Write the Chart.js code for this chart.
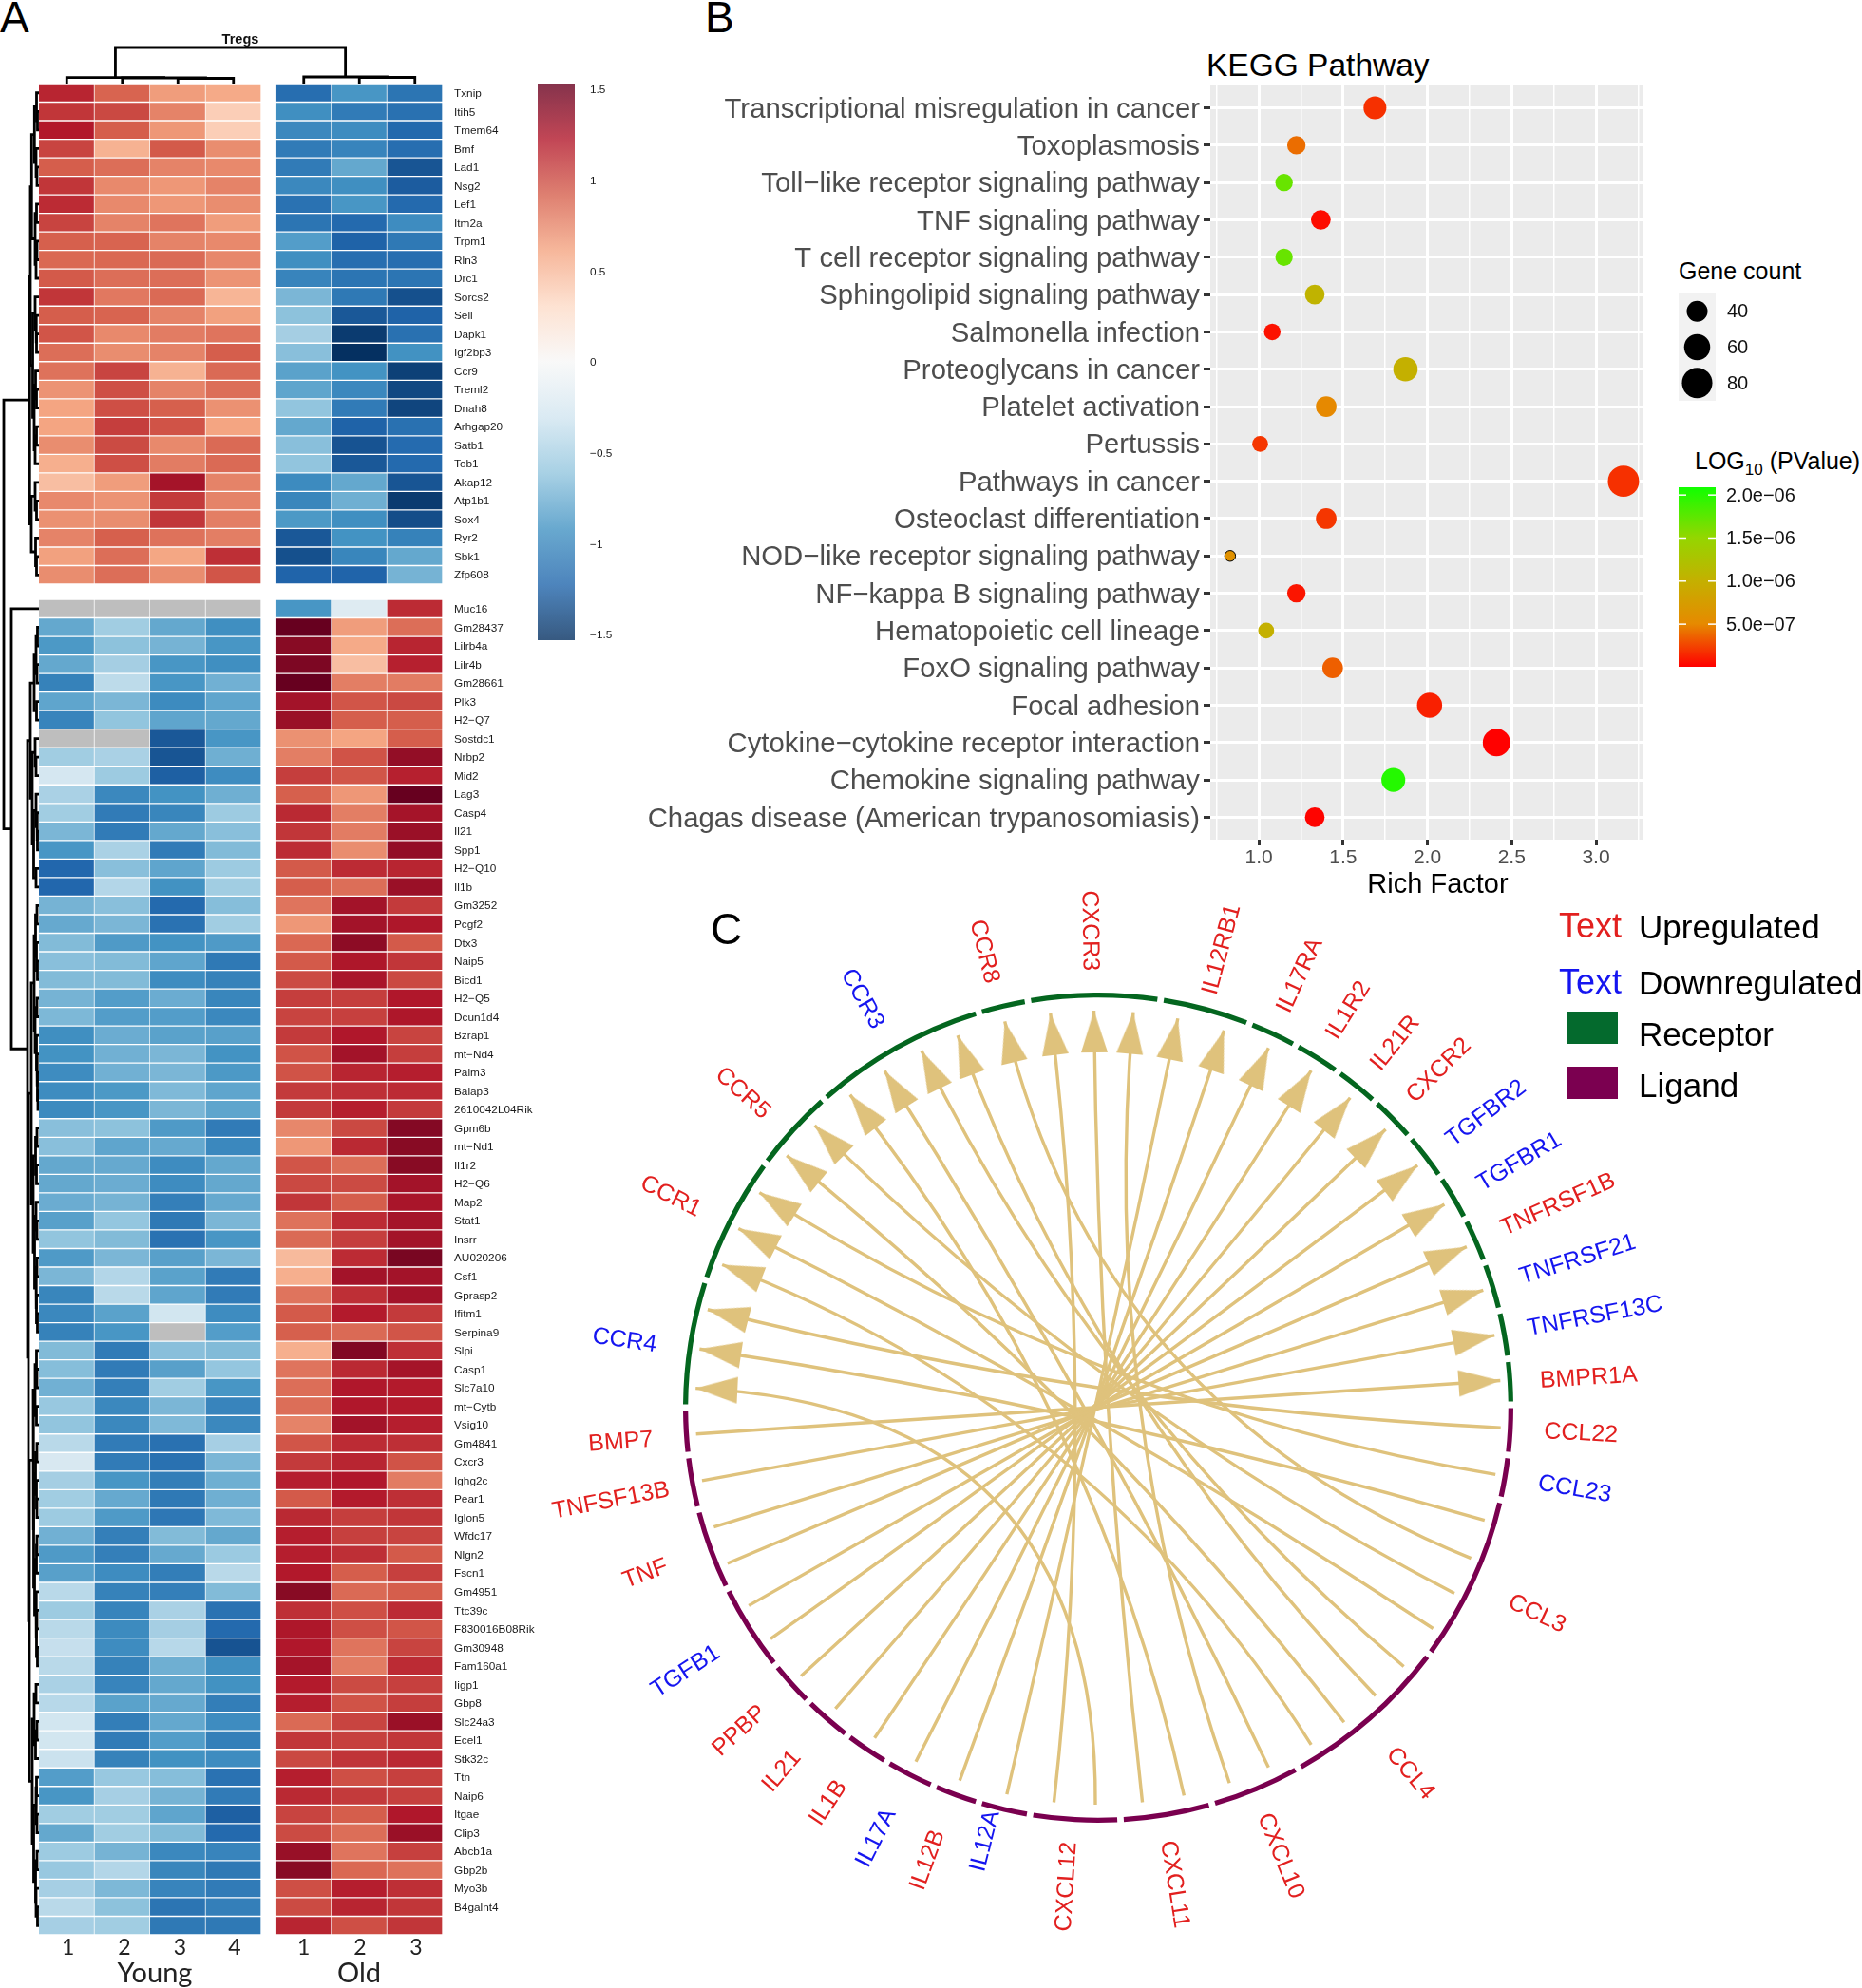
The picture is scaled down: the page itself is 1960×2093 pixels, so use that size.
<!DOCTYPE html>
<html>
<head>
<meta charset="utf-8">
<title>Tregs young vs old</title>
<script src="https://cdn.jsdelivr.net/npm/chart.js@4"></script>
<style>
    html, body { margin: 0; background: #fff; }
    body { position: relative; width: 1960px; height: 2093px; overflow: hidden; font-family: "Liberation Sans", Arial, sans-serif; }
    canvas { position: absolute; }
    .t { position: absolute; line-height: 1; white-space: nowrap; }
    .t sub { font-size: 0.68em; line-height: 0; }
    .key { position: absolute; }
</style>
</head>
<body>
<script>
// Panel A: heatmap values, one row per gene. null is a missing (grey) cell
const topGenes = ['Txnip','Itih5','Tmem64','Bmf','Lad1','Nsg2','Lef1','Itm2a','Trpm1','Rln3','Drc1','Sorcs2','Sell','Dapk1','Igf2bp3','Ccr9','Treml2','Dnah8','Arhgap20','Satb1','Tob1','Akap12','Atp1b1','Sox4','Ryr2','Sbk1','Zfp608'];
const topYoung = [[1.3,1.0,.72,.65],[1.22,1.13,.85,.42],[1.36,1.03,.75,.42],[1.15,.6,1.05,.8],[1.03,.95,.85,.82],[1.22,.82,.75,.85],[1.27,.82,.75,.8],[1.15,.85,.92,.72],[1.02,1.0,.85,.82],[.98,.98,.97,.83],[1.05,.95,.95,.77],[1.22,.9,.97,.58],[1.03,1.0,.85,.7],[1.07,.82,.88,.92],[.95,.8,.85,1.03],[.93,1.15,.6,.97],[.77,1.1,.85,.95],[.68,1.1,1.02,.78],[.68,1.18,1.08,.68],[.8,1.12,.82,.97],[.62,1.1,.88,.97],[.52,.72,1.42,.85],[.82,.77,1.2,.85],[.78,.8,1.22,.87],[.85,1.02,.93,.87],[.7,.95,.67,1.25],[.8,.95,.8,1.07]];
const topOld = [[-1.3,-1.0,-1.25],[-1.05,-1.2,-1.28],[-1.1,-1.07,-1.34],[-1.2,-1.13,-1.3],[-1.2,-.88,-1.47],[-1.1,-1.05,-1.42],[-1.27,-1.0,-1.33],[-1.25,-1.33,-1.07],[-.95,-1.38,-1.22],[-1.05,-1.3,-1.3],[-1.13,-1.25,-1.25],[-.78,-1.22,-1.5],[-.7,-1.45,-1.38],[-.58,-1.63,-1.28],[-.72,-1.72,-1.03],[-.92,-1.02,-1.6],[-.9,-1.1,-1.55],[-.68,-1.2,-1.57],[-.88,-1.38,-1.28],[-.72,-1.48,-1.32],[-.68,-1.45,-1.33],[-1.08,-.88,-1.47],[-1.12,-.83,-1.63],[-.98,-1.05,-1.52],[-1.45,-1.02,-1.15],[-1.5,-1.12,-.88],[-1.37,-1.37,-.8]];

const bottomGenes = ['Muc16','Gm28437','Lilrb4a','Lilr4b','Gm28661','Plk3','H2−Q7','Sostdc1','Nrbp2','Mid2','Lag3','Casp4','Il21','Spp1','H2−Q10','Il1b','Gm3252','Pcgf2','Dtx3','Naip5','Bicd1','H2−Q5','Dcun1d4','Bzrap1','mt−Nd4','Palm3','Baiap3','2610042L04Rik','Gpm6b','mt−Nd1','Il1r2','H2−Q6','Map2','Stat1','Insrr','AU020206','Csf1','Gprasp2','Ifitm1','Serpina9','Slpi','Casp1','Slc7a10','mt−Cytb','Vsig10','Gm4841','Cxcr3','Ighg2c','Pear1','Iglon5','Wfdc17','Nlgn2','Fscn1','Gm4951','Ttc39c','F830016B08Rik','Gm30948','Fam160a1','Iigp1','Gbp8','Slc24a3','Ecel1','Stk32c','Ttn','Naip6','Itgae','Clip3','Abcb1a','Gbp2b','Myo3b','B4galnt4',''];
const bottomYoung = [[null,null,null,null],[-.88,-.6,-.88,-1.05],[-.98,-.7,-.8,-1.0],[-.88,-.58,-1.0,-1.05],[-1.15,-.45,-1.0,-.82],[-.9,-.78,-1.08,-.9],[-1.13,-.68,-.9,-.88],[null,null,-1.45,-1.0],[-.6,-.55,-1.47,-.83],[-.3,-.62,-1.4,-1.07],[-.55,-1.1,-1.02,-.83],[-.6,-1.2,-1.12,-.62],[-.78,-1.2,-.88,-.72],[-1.0,-.55,-1.2,-.75],[-1.35,-.72,-.9,-.62],[-1.35,-.5,-1.03,-.6],[-.8,-.72,-1.33,-.73],[-.87,-.78,-1.27,-.6],[-.75,-.97,-1.02,-.97],[-.72,-.75,-.9,-1.22],[-.75,-.75,-1.07,-1.15],[-.8,-.95,-.85,-1.12],[-.77,-.95,-.95,-1.1],[-1.05,-.85,-.92,-.93],[-1.02,-.82,-.78,-1.02],[-1.07,-.82,-.78,-.98],[-1.07,-.98,-.76,-.9],[-1.08,-1.0,-.78,-.9],[-.72,-.7,-.97,-1.2],[-.72,-.9,-.87,-1.1],[-.88,-.87,-1.07,-.88],[-.88,-.85,-1.07,-.88],[-.85,-.8,-1.17,-.87],[-.93,-.67,-1.22,-.78],[-.68,-.75,-1.27,-1.0],[-.97,-.78,-.93,-.78],[-.78,-.5,-.92,-1.2],[-1.12,-.47,-.9,-1.2],[-1.1,-.92,-.33,-1.07],[-1.15,-1.0,null,-.95],[-.75,-1.2,-.72,-.75],[-.73,-1.2,-.93,-.67],[-.82,-1.17,-.6,-1.0],[-.65,-1.1,-.78,-1.13],[-.68,-1.1,-.76,-1.1],[-.47,-1.2,-1.28,-.57],[-.28,-1.2,-1.28,-.78],[-.58,-1.0,-1.18,-.83],[-.6,-.87,-1.22,-.83],[-.62,-.97,-1.23,-.76],[-.82,-1.17,-.75,-.88],[-.97,-1.17,-.87,-.63],[-.93,-1.07,-1.18,-.47],[-.47,-1.15,-1.17,-.75],[-.62,-1.13,-.55,-1.27],[-.47,-1.08,-.58,-1.33],[-.4,-1.07,-.48,-1.48],[-.47,-1.15,-.83,-1.05],[-.55,-1.13,-.88,-1.03],[-.48,-.92,-.87,-1.18],[-.33,-1.18,-.88,-1.07],[-.33,-1.2,-.95,-1.17],[-.37,-1.15,-1.03,-1.07],[-.95,-.65,-.73,-1.27],[-1.0,-.57,-.8,-1.2],[-.6,-.6,-.9,-1.4],[-.88,-.6,-.75,-1.33],[-.62,-.8,-1.1,-1.13],[-.65,-.5,-1.12,-1.22],[-.57,-.77,-1.13,-1.2],[-.47,-.7,-1.25,-1.17],[-.57,-.6,-1.22,-1.22]];
const bottomOld = [[-1.0,-.22,1.27],[1.7,.72,.95],[1.55,.65,1.3],[1.6,.52,1.32],[1.7,.87,.88],[1.43,1.07,1.13],[1.47,1.03,1.03],[.78,.68,1.03],[.87,1.08,1.5],[1.18,1.07,1.32],[1.02,.75,1.72],[1.28,.87,1.42],[1.22,.88,1.47],[1.27,.8,1.5],[1.05,1.27,1.3],[1.03,.95,1.47],[.92,1.43,1.2],[.75,1.43,1.38],[.98,1.53,1.05],[1.05,1.38,1.22],[1.12,1.4,1.13],[1.18,1.18,1.37],[1.15,1.17,1.38],[1.2,1.37,1.15],[1.08,1.43,1.18],[1.08,1.3,1.33],[1.2,1.25,1.27],[1.2,1.33,1.2],[.83,1.13,1.57],[.75,1.28,1.55],[1.07,.95,1.55],[1.13,1.12,1.43],[1.22,1.03,1.4],[.93,1.27,1.42],[.97,1.18,1.43],[.55,1.27,1.62],[.62,1.43,1.43],[.92,1.25,1.43],[1.05,1.35,1.2],[1.02,.97,1.07],[.62,1.58,1.25],[.92,1.28,1.42],[.95,1.37,1.35],[.95,1.37,1.35],[.85,1.43,1.33],[1.07,1.27,1.25],[1.2,1.3,1.08],[1.33,1.37,.88],[1.05,1.35,1.25],[1.28,1.18,1.22],[1.33,1.17,1.15],[1.33,1.25,1.05],[1.36,1.03,1.17],[1.55,.97,1.03],[1.25,1.1,1.27],[1.38,1.1,1.07],[1.37,.92,1.15],[1.42,.88,1.27],[1.35,1.12,1.17],[1.33,1.08,1.18],[.97,1.15,1.47],[1.22,1.17,1.22],[1.13,1.23,1.28],[1.33,1.1,1.17],[1.28,1.2,1.17],[1.15,1.03,1.37],[1.12,.95,1.47],[1.48,.92,1.17],[1.55,.98,.93],[1.1,1.33,1.25],[1.12,1.3,1.22],[1.3,1.1,1.22]];

const colorbarTicks = [-1.5, -1, -0.5, 0, 0.5, 1, 1.5];
const sampleNumbers = ['1', '2', '3', '4', '1', '2', '3'];

// dendrograms as nested [height, childA, childB], a number is a leaf
const colTree = [38, [6.3, 0, [6, 1, [5.5, 2, 3]]], [7, 4, [6.5, 5, 6]]];
const rowTreeTop = [9.7,
    [9,
        [7.7, [4.7, [2.5, 0, [1.5, 1, 2]], [3, 3, [2, 4, 5]]], [4, [2.5, 6, 7], [3, [2, 8, 9], 10]]],
        [6.5, [4, 11, [3, 12, [2.5, 13, 14]]], [5, [3.5, 15, [2.5, 16, 17]], [4, [2.5, 18, 19], 20]]]],
    [8, [4, 21, [2.5, 22, 23]], [3.5, 24, [2.5, 25, 26]]]];
const rowTreeBottom = [29, 0,
    [12,
        [9, [5, [3, [1.5, 1, 2], [2, 3, 4]], [2.5, 5, 6]],
            [7, [4, 7, [3, 8, 9]], [5.5, [3, 10, [2, 11, [1.5, 12, 13]]], [3, 14, 15]]]],
        [11,
            [8,
                [5, [3.5, [2, 16, 17], [2.5, 18, [1.5, 19, 20]]], [4, [2, 21, 22], [2.5, 23, [2, 24, [1.5, 25, [1, 26, 27]]]]]],
                [6, [3.5, [2, 28, 29], [2.5, 30, 31]], [4.5, [3, 32, [2, 33, 34]], [3, [2, 35, 36], [2.5, 37, [1.5, 38, 39]]]]]],
            [10,
                [6, [4, [2.5, 40, [2, 41, 42]], [2.5, 43, 44]], [5.5, [3.5, [2, 45, 46], [2.5, 47, [2, 48, 49]]], [4.5, [2.5, [2, 50, 51], 52], [3, 53, [2.5, [2, 54, 55], [1.5, 56, 57]]]]]],
                [7, [5, [3, 58, 59], [3.5, [2, 60, 61], 62]], [5.5, [3, [2.5, 63, 64], [2, 65, 66]], [3.5, [2, 67, 68], [3, 69, [1.5, 70, 71]]]]]]]]];
const rowRootHeight = 37;

// Panel B
const pathways = ['Transcriptional misregulation in cancer','Toxoplasmosis','Toll−like receptor signaling pathway','TNF signaling pathway','T cell receptor signaling pathway','Sphingolipid signaling pathway','Salmonella infection','Proteoglycans in cancer','Platelet activation','Pertussis','Pathways in cancer','Osteoclast differentiation','NOD−like receptor signaling pathway','NF−kappa B signaling pathway','Hematopoietic cell lineage','FoxO signaling pathway','Focal adhesion','Cytokine−cytokine receptor interaction','Chemokine signaling pathway','Chagas disease (American trypanosomiasis)'];
const richFactor = [1.689,1.223,1.15,1.368,1.15,1.332,1.08,1.87,1.40,1.008,3.163,1.40,0.83,1.223,1.044,1.438,2.013,2.41,1.798,1.332];
const geneCount = [47,32,29,36,29,36,27,53,39,25,84,39,14,32,25,39,56,66,51,36];
const pValue = [1.8e-7,4e-7,1.7e-6,5e-8,1.7e-6,1.05e-6,7e-8,1.0e-6,5e-7,2e-7,1.8e-7,2e-7,6e-7,8e-8,1e-6,3.5e-7,1.2e-7,1e-8,2e-6,2e-8];
const sizeLegend = ['40', '60', '80'];
const pValueTicks = [5e-7, 1e-6, 1.5e-6, 2e-6];

// Panel C: angles in degrees, clockwise from 3 o'clock
const receptors = ['BMPR1A','TNFRSF13C','TNFRSF21','TNFRSF1B','TGFBR1','TGFBR2','CXCR2','IL21R','IL1R2','IL17RA','IL12RB1','CXCR3','CCR8','CCR3','CCR5','CCR1','CCR4'];
const receptorAngles = [-3.6,-10.6,-17.4,-24.1,-30.6,-37.5,-45,-51.1,-58,-65.1,-74.9,-90.8,-103.6,-119.4,-137.9,-153.2,-171.7];
const ligands = ['CCL22','CCL23','CCL3','CCL4','CXCL10','CXCL11','CXCL12','IL12A','IL12B','IL17A','IL1B','IL21','PPBP','TGFB1','TNF','TNFSF13B','BMP7'];
const ligandAngles = [3,9.7,25.3,49.7,67.9,80.8,93.5,104.2,110.2,116.8,123.8,130.5,137.5,147,159.6,169.1,175.9];
const downregulated = ['CCR3','CCR4','TGFBR2','TGFBR1','TNFRSF21','TNFRSF13C','CCL23','IL12A','IL17A','TGFB1'];
const linkFrom = [2.9,9.7,16.5,22.3,27.9,33.8,40.7,46.5,52.4,58.1,65,71,77.7,83.7,90.4,96.3,103.1,110.1,116.9,123.7,130.7,137.5,144.4,150.1,156.9,162.5,169.4,176.2];
const linkTo = [-165.7,-147.2,-171.5,-103.4,-134.7,-153.2,-116,-110.4,-140.6,-158.9,-122,-85,-128,-90.6,-177.2,-96.8,-78.6,-71.8,-65,-58.1,-51.3,-44.5,-37.6,-30.8,-23.9,-17.2,-10.5,-3.9];
const ringBreaks = [-0.4,6.6,12.9,36.7,61,74,86.9,99.5,106.8,113.5,120.8,127.4,134.6,141.4,154,165.7,173.4,180,198,216.3,228.4,253.2,260.2,278.7,291.5,298.6,305.5,312.1,319,326,332.8,339.4,346.4,353.2];

const rdBu = ['#053061','#2166AC','#4393C3','#92C5DE','#D1E5F0','#F7F7F7','#FDDBC7','#F4A582','#D6604D','#B2182B','#67001F'];
const pValueColors = [[0,'#ff0000'],[0.24,'#e68a00'],[0.48,'#c4b000'],[0.72,'#94d600'],[1,'#10ff00']];
const pValueMin = 5e-9, pValueMax = 2.09e-6;

Chart.defaults.animation = false;
Chart.defaults.responsive = false;
Chart.defaults.font.family = '"Liberation Sans", Arial, sans-serif';
Chart.defaults.plugins.legend.display = false;
Chart.defaults.plugins.tooltip.enabled = false;

function addCanvas(x, y, w, h) {
    const c = document.createElement('canvas');
    c.width = w;
    c.height = h;
    c.style.left = x + 'px';
    c.style.top = y + 'px';
    document.body.appendChild(c);
    return c;
}

function addText(html, x, y, size, opts = {}) {
    const d = document.createElement('div');
    d.className = 't';
    d.innerHTML = html;
    d.style.left = x + 'px';
    d.style.top = y + 'px';
    d.style.fontSize = size + 'px';
    d.style.color = opts.color || '#000';
    if (opts.bold) d.style.fontWeight = 'bold';
    if (opts.family) d.style.fontFamily = opts.family;
    d.style.transform = opts.center ? 'translate(-50%, -50%)' : 'translateY(-50%)';
    document.body.appendChild(d);
}

function hexToRgb(hex) {
    return [1, 3, 5].map(i => parseInt(hex.slice(i, i + 2), 16));
}

function mix(a, b, t) {
    const ca = hexToRgb(a), cb = hexToRgb(b);
    const c = ca.map((v, i) => Math.round(v + (cb[i] - v) * t));
    return `rgb(${c[0]},${c[1]},${c[2]})`;
}

function heatColor(v) {
    if (v === null) return '#BEBEBE';
    const pos = Math.max(0, Math.min(0.9999, (v + 1.7) / 3.4)) * (rdBu.length - 1);
    const i = Math.floor(pos);
    return mix(rdBu[i], rdBu[i + 1], pos - i);
}

function pValueColor(p) {
    const t = Math.max(0, Math.min(1, (p - pValueMin) / (pValueMax - pValueMin)));
    for (let i = 1; i < pValueColors.length; i++) {
        if (t <= pValueColors[i][0]) {
            const [t0, c0] = pValueColors[i - 1], [t1, c1] = pValueColors[i];
            return mix(c0, c1, (t - t0) / (t1 - t0));
        }
    }
    return pValueColors[pValueColors.length - 1][1];
}

function geneRadius(count) {
    return Math.sqrt(3.4 * count - 15);
}

// axis with an exact size: tick padding would otherwise eat into the plot area
function fixAxis(scale, size) {
    if (scale.isHorizontal()) scale.height = size;
    else scale.width = size;
    scale.paddingTop = scale.paddingBottom = scale.paddingLeft = scale.paddingRight = 0;
}

// fills the plot area, used for the ggplot style grey panels
const areaFill = {
    id: 'areaFill',
    beforeDraw(chart, args, opts) {
        if (!opts.color) return;
        const a = chart.chartArea;
        chart.ctx.fillStyle = opts.color;
        chart.ctx.fillRect(a.left, a.top, a.right - a.left, a.bottom - a.top);
    }
};
Chart.register(areaFill);

// ---------- Panel A ----------
const COL_GAP = 0.265;

function heatmap(x, y, h, genes, youngRows, oldRows) {
    const column = (rows, c) => ({
        data: rows.map(() => 1),
        backgroundColor: rows.map(r => heatColor(r[c])),
        borderColor: 'rgba(255,255,255,0.14)',
        borderWidth: 1,
        barPercentage: 1,
        categoryPercentage: 1
    });
    const datasets = [0, 1, 2, 3].map(c => column(youngRows, c));
    datasets.push({ data: youngRows.map(() => COL_GAP), backgroundColor: '#fff', barPercentage: 1, categoryPercentage: 1 });
    [0, 1, 2].forEach(c => datasets.push(column(oldRows, c)));
    new Chart(addCanvas(x, y, 535, h), {
        type: 'bar',
        data: { labels: genes, datasets },
        options: {
            indexAxis: 'y',
            scales: {
                x: { stacked: true, display: false, min: 0, max: 7 + COL_GAP },
                y: {
                    stacked: true,
                    position: 'right',
                    grid: { display: false, drawTicks: false },
                    border: { display: false },
                    afterFit(scale) { fixAxis(scale, 110); },
                    ticks: { autoSkip: false, padding: 12, labelOffset: 1, color: '#1a1a1a', font: { size: 11.8 } }
                }
            }
        }
    });
}
heatmap(41, 88, 527, topGenes, topYoung, topOld);
heatmap(41, 631, 1406, bottomGenes, bottomYoung, bottomOld);

// walks a nested tree and returns one 4 point polyline per merge
function treeLinks(node, leafPos, links) {
    if (typeof node === 'number') return { p: leafPos(node), h: 0 };
    const a = treeLinks(node[1], leafPos, links);
    const b = treeLinks(node[2], leafPos, links);
    links.push([[a.h, a.p], [node[0], a.p], [node[0], b.p], [b.h, b.p]]);
    return { p: (a.p + b.p) / 2, h: node[0] };
}

const lineDataset = pts => ({
    data: pts,
    showLine: true,
    pointRadius: 0,
    borderColor: '#000',
    borderWidth: 2.8,
    borderJoinStyle: 'miter',
    clip: false
});

const colLinks = [];
treeLinks(colTree, i => (i < 4 ? i + 0.5 : i + 0.5 + COL_GAP), colLinks);
new Chart(addCanvas(41, 40, 425, 48), {
    type: 'scatter',
    data: { datasets: colLinks.map(l => lineDataset(l.map(p => ({ x: p[1], y: p[0] })))) },
    options: {
        scales: {
            x: { display: false, min: 0, max: 7 + COL_GAP },
            y: { display: false, min: 0, max: 48 }
        }
    }
});

const shiftLeaves = n => (typeof n === 'number' ? n + topGenes.length : [n[0], shiftLeaves(n[1]), shiftLeaves(n[2])]);
const rowTree = [rowRootHeight, rowTreeTop, shiftLeaves(rowTreeBottom)];
const ROW_GAP = 0.82;
const rowLinks = [];
treeLinks(rowTree, i => (i < topGenes.length ? i + 0.5 : i + 0.5 + ROW_GAP), rowLinks);
new Chart(addCanvas(0, 88, 41, 1949), {
    type: 'scatter',
    data: { datasets: rowLinks.map(l => lineDataset(l.map(p => ({ x: p[0], y: p[1] })))) },
    options: {
        scales: {
            x: { display: false, min: 0, max: 41, reverse: true },
            y: { display: false, min: 0, max: topGenes.length + bottomGenes.length + ROW_GAP, reverse: true }
        }
    }
});

// heat colour bar
new Chart(addCanvas(566, 76, 100, 610), {
    type: 'bar',
    data: {
        labels: [''],
        datasets: [{
            data: [[-1.532, 1.532]],
            barPercentage: 1,
            categoryPercentage: 1,
            backgroundColor(ctx) {
                const a = ctx.chart.chartArea;
                if (!a) return '#888';
                const g = ctx.chart.ctx.createLinearGradient(0, a.bottom, 0, a.top);
                rdBu.forEach((c, i) => {
                    const rgb = hexToRgb(c);
                    g.addColorStop(i / (rdBu.length - 1), `rgba(${rgb[0]},${rgb[1]},${rgb[2]},0.8)`);
                });
                return g;
            }
        }]
    },
    options: {
        layout: { padding: { top: 12, bottom: 12 } },
        scales: {
            x: { display: false },
            y: {
                position: 'right',
                min: -1.532,
                max: 1.532,
                grid: { display: false, drawTicks: false },
                border: { display: false },
                afterFit(scale) { fixAxis(scale, 61); },
                afterBuildTicks(scale) { scale.ticks = colorbarTicks.map(value => ({ value })); },
                ticks: {
                    padding: 16,
                    labelOffset: 1,
                    color: '#1a1a1a',
                    font: { size: 11.8 },
                    callback: v => String(v).replace('-', '−')
                }
            }
        }
    }
});

addText('A', 0, 18, 46);
addText('Tregs', 253, 41, 14.6, { bold: true, center: true, color: '#111' });
[71.6, 131, 189.5, 247, 319.6, 379, 438].forEach((x, i) => {
    addText(sampleNumbers[i], x, 2049, 23, { center: true, family: 'Lato', color: '#222' });
});
addText('Young', 163, 2075, 29, { center: true, family: 'Lato', color: '#222' });
addText('Old', 378, 2075, 29, { center: true, family: 'Lato', color: '#222' });

// ---------- Panel B ----------
new Chart(addCanvas(660, 90, 1069, 840), {
    type: 'bubble',
    data: {
        datasets: [{
            data: pathways.map((p, i) => ({ x: richFactor[i], y: i, r: geneRadius(geneCount[i]) })),
            backgroundColor: pValue.map(pValueColor),
            borderColor: geneCount.map(c => (c < 20 ? '#000' : 'rgba(0,0,0,0)')),
            borderWidth: 1
        }]
    },
    options: {
        layout: { autoPadding: false },
        plugins: { areaFill: { color: '#EBEBEB' } },
        scales: {
            x: {
                min: 0.7123,
                max: 3.276,
                afterFit(scale) { fixAxis(scale, 46); },
                border: { display: false },
                grid: {
                    color: '#fff',
                    lineWidth: ctx => (ctx.tick && ctx.tick.value % 0.5 === 0 ? 3 : 1.5),
                    tickColor: ctx => (ctx.tick && ctx.tick.value % 0.5 === 0 ? '#333' : 'rgba(0,0,0,0)'),
                    tickLength: 6,
                    tickWidth: 3
                },
                ticks: {
                    stepSize: 0.25,
                    includeBounds: false,
                    autoSkip: false,
                    maxRotation: 0,
                    padding: 1,
                    color: '#4d4d4d',
                    font: { size: 21 },
                    callback: v => (v % 0.5 === 0 ? v.toFixed(1) : '')
                }
            },
            y: {
                min: -0.6,
                max: 19.6,
                reverse: true,
                afterFit(scale) { fixAxis(scale, 614); },
                border: { display: false },
                grid: { color: '#fff', lineWidth: 3, tickColor: '#333', tickLength: 7, tickWidth: 3 },
                ticks: {
                    stepSize: 1,
                    includeBounds: false,
                    autoSkip: false,
                    padding: 4,
                    labelOffset: 2,
                    color: '#4d4d4d',
                    font: { size: 29.3 },
                    callback: v => pathways[v]
                }
            }
        }
    }
});

addText('B', 742, 18, 46);
addText('KEGG Pathway', 1270, 69, 33.5);
addText('Rich Factor', 1513.5, 930, 29, { center: true });
addText('Gene count', 1767, 285, 25);
addText('LOG<sub>10</sub> (PValue)', 1784, 485, 25);

// gene count key
new Chart(addCanvas(1767, 309, 99, 113), {
    type: 'bubble',
    data: {
        datasets: [{
            data: sizeLegend.map(s => ({ x: 0.5, y: s, r: geneRadius(Number(s)) })),
            backgroundColor: '#000',
            borderWidth: 0
        }]
    },
    options: {
        layout: { autoPadding: false },
        plugins: { areaFill: { color: '#F2F2F2' } },
        scales: {
            x: { display: false, min: 0, max: 1 },
            y: {
                type: 'category',
                labels: sizeLegend,
                offset: true,
                position: 'right',
                afterFit(scale) { fixAxis(scale, 60); },
                grid: { display: false, drawTicks: false },
                border: { display: false },
                ticks: { autoSkip: false, padding: 12, labelOffset: 1, color: '#111', font: { size: 20 } }
            }
        }
    }
});

// white tick marks inside the p value colour bar
const barTicks = {
    id: 'barTicks',
    afterDatasetsDraw(chart) {
        const a = chart.chartArea, ctx = chart.ctx;
        ctx.strokeStyle = '#fff';
        ctx.lineWidth = 1.5;
        chart.scales.y.ticks.forEach(t => {
            const y = chart.scales.y.getPixelForValue(t.value);
            [[a.left, a.left + 8], [a.right - 8, a.right]].forEach(s => {
                ctx.beginPath();
                ctx.moveTo(s[0], y);
                ctx.lineTo(s[1], y);
                ctx.stroke();
            });
        });
    }
};

new Chart(addCanvas(1767, 501, 150, 213), {
    type: 'bar',
    plugins: [barTicks],
    data: {
        labels: [''],
        datasets: [{
            data: [[pValueMin, pValueMax]],
            barPercentage: 1,
            categoryPercentage: 1,
            backgroundColor(ctx) {
                const a = ctx.chart.chartArea;
                if (!a) return '#888';
                const g = ctx.chart.ctx.createLinearGradient(0, a.bottom, 0, a.top);
                pValueColors.forEach(s => g.addColorStop(s[0], s[1]));
                return g;
            }
        }]
    },
    options: {
        layout: { padding: { top: 12, bottom: 12 } },
        scales: {
            x: { display: false },
            y: {
                position: 'right',
                min: pValueMin,
                max: pValueMax,
                afterFit(scale) { fixAxis(scale, 111); },
                afterBuildTicks(scale) { scale.ticks = pValueTicks.map(value => ({ value })); },
                grid: { display: false, drawTicks: false },
                border: { display: false },
                ticks: {
                    padding: 11,
                    labelOffset: 1,
                    color: '#111',
                    font: { size: 20 },
                    callback: v => v.toExponential(1).replace('e-', 'e−0')
                }
            }
        }
    }
});

// ---------- Panel C ----------
const CX = 1156, CY = 1482, HALF = 640;
const RING_R = 437, LINK_R = 418, LABEL_R = 461, RING_GAP = 0.9;
const X_STRETCH = 1.015;
// labels that sit further from (or closer to) the ring than the rest
const labelNudge = { CCL22: 4, CCL23: 4, CCL3: 13, CCL4: 11, CXCL12: -4, IL12A: -24, IL12B: 13, IL17A: 13, IL1B: 13, IL21: 17, PPBP: 8, TGFB1: 7, TNF: 14, TNFSF13B: -10, IL12RB1: -9, TNFRSF13C: -6 };

// ring: segments between the breaks with a blank slice at each break
const ringSizes = [];
const ringColors = [];
ringBreaks.forEach((b, i) => {
    const next = i + 1 < ringBreaks.length ? ringBreaks[i + 1] : ringBreaks[0] + 360;
    ringSizes.push(next - b - RING_GAP, RING_GAP);
    ringColors.push(b >= -1 && b < 180 ? '#7A004F' : '#04661F', 'rgba(0,0,0,0)');
});
new Chart(addCanvas(CX - HALF, CY - HALF, HALF * 2, HALF * 2), {
    type: 'doughnut',
    data: {
        labels: ringSizes.map((s, i) => String(i)),
        datasets: [{ data: ringSizes, backgroundColor: ringColors, borderWidth: 0 }]
    },
    options: {
        radius: RING_R,
        cutout: '98.8%',
        rotation: 90 + ringBreaks[0] + RING_GAP / 2,
        layout: { padding: 0 }
    }
});

const polar = (deg, r) => ({ x: r * Math.cos(deg * Math.PI / 180), y: r * Math.sin(deg * Math.PI / 180) });

// arrow head: tip sits in the middle of the image so it lands on the data point
const LINK_COLOR = '#DFC27C';
const arrowHead = document.createElement('canvas');
arrowHead.width = 28;
arrowHead.height = 90;
{
    const c = arrowHead.getContext('2d');
    c.fillStyle = LINK_COLOR;
    c.beginPath();
    c.moveTo(14, 45);
    c.lineTo(28, 89);
    c.lineTo(0, 89);
    c.closePath();
    c.fill();
}

const linkCurves = {
    id: 'linkCurves',
    beforeDatasetsDraw(chart) {
        const ctx = chart.ctx;
        const mx = chart.scales.x.getPixelForValue(0), my = chart.scales.y.getPixelForValue(0);
        ctx.strokeStyle = LINK_COLOR;
        ctx.lineWidth = 3.4;
        chart.data.datasets.forEach((d, i) => {
            const pts = chart.getDatasetMeta(i).data;
            ctx.beginPath();
            ctx.moveTo(pts[0].x, pts[0].y);
            ctx.quadraticCurveTo(mx, my, pts[1].x, pts[1].y);
            ctx.stroke();
        });
    }
};

const ringLabels = {
    id: 'ringLabels',
    afterDatasetsDraw(chart) {
        const ctx = chart.ctx;
        const draw = (name, deg) => {
            const p = polar(deg, LABEL_R + (labelNudge[name] || 0));
            const right = Math.cos(deg * Math.PI / 180) > 0;
            ctx.save();
            ctx.translate(chart.scales.x.getPixelForValue(p.x) - 2, chart.scales.y.getPixelForValue(p.y) + 1);
            ctx.rotate((right ? deg : deg + 180) * Math.PI / 180);
            ctx.textAlign = right ? 'left' : 'right';
            ctx.textBaseline = 'middle';
            ctx.font = '25px "Liberation Sans", Arial, sans-serif';
            ctx.fillStyle = downregulated.includes(name) ? '#1515F0' : '#E2201F';
            ctx.fillText(name, 0, 0);
            ctx.restore();
        };
        receptors.forEach((n, i) => draw(n, receptorAngles[i]));
        ligands.forEach((n, i) => draw(n, ligandAngles[i]));
    }
};

new Chart(addCanvas(CX - HALF, CY - HALF, HALF * 2, HALF * 2), {
    type: 'scatter',
    plugins: [linkCurves, ringLabels],
    data: {
        datasets: linkFrom.map((from, i) => ({
            data: [polar(from, LINK_R), polar(linkTo[i], LINK_R)],
            pointStyle: arrowHead,
            pointRadius: [0, 8],
            pointRotation: [0, linkTo[i] + 90],
            clip: false
        }))
    },
    options: {
        layout: { autoPadding: false },
        scales: {
            x: { display: false, min: -HALF / X_STRETCH, max: HALF / X_STRETCH },
            y: { display: false, min: -HALF, max: HALF, reverse: true }
        }
    }
});

addText('C', 748, 978, 46);
addText('Text', 1641, 975, 36, { color: '#E2201F' });
addText('Upregulated', 1725, 975, 35);
addText('Text', 1641, 1034, 36, { color: '#1515F0' });
addText('Downregulated', 1725, 1034, 35);
addText('Receptor', 1725, 1088, 35);
addText('Ligand', 1725, 1142, 35);
[[1065, '#046A2D'], [1123, '#7B0050']].forEach(k => {
    const d = document.createElement('div');
    d.className = 'key';
    d.style.cssText = `left:1649px;top:${k[0]}px;width:54px;height:34px;background:${k[1]}`;
    document.body.appendChild(d);
});
</script>
</body>
</html>
